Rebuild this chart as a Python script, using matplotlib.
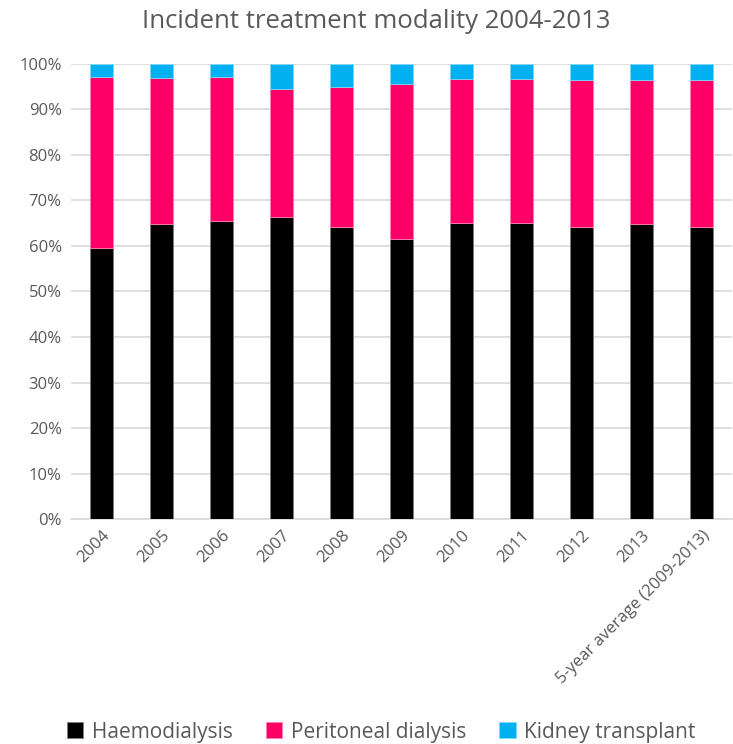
import numpy as np
from matplotlib import pyplot as plt
from matplotlib.ticker import PercentFormatter

# data (percent of incident patients)
categories = ["2004", "2005", "2006", "2007", "2008", "2009", "2010",
              "2011", "2012", "2013", "5-year average (2009-2013)"]
haemo = [59.6, 64.9, 65.5, 66.4, 64.2, 61.6, 65.1, 65.1, 64.1, 64.8, 64.1]
pd_top = [97.2, 97.0, 97.2, 94.4, 94.9, 95.7, 96.8, 96.8, 96.4, 96.4, 96.4]
peritoneal = [t - h for t, h in zip(pd_top, haemo)]
transplant = [100 - t for t in pd_top]

plt.rcParams['font.family'] = ['Open Sans', 'DejaVu Sans']
grey = "#595959"

fig = plt.figure(figsize=(7.33, 7.44), dpi=100)
ax = fig.add_axes([0.0975, 0.3024, 0.9005, 0.6116])

x = np.arange(len(categories))
w = 0.38
ax.bar(x, haemo, w, color="#000000", edgecolor="#7f7f7f", linewidth=0.6,
       label="Haemodialysis", zorder=3)
ax.bar(x, peritoneal, w, bottom=haemo, color="#FF0066", edgecolor="#ff7fb2",
       linewidth=0.6, label="Peritoneal dialysis", zorder=3)
ax.bar(x, transplant, w, bottom=pd_top, color="#00B0F0", edgecolor="#7fd7f7",
       linewidth=0.6, label="Kidney transplant", zorder=3)

ax.set_xlim(-0.5, len(categories) - 0.5)
ax.set_ylim(0, 100)
ax.set_yticks(np.arange(0, 101, 10))
ax.yaxis.set_major_formatter(PercentFormatter(decimals=0))
ax.grid(axis="y", color="#d9d9d9", linewidth=1.2, zorder=0)
for s in ["top", "right", "left"]:
    ax.spines[s].set_visible(False)
ax.spines["bottom"].set_color("#d9d9d9")
ax.spines["bottom"].set_linewidth(1.2)
ax.tick_params(axis="both", length=0, colors=grey, labelsize=12)
ax.tick_params(axis="y", pad=7)
ax.tick_params(axis="x", pad=6)
ax.set_xticks(x)
ax.set_xticklabels(categories, rotation=45, ha="right", rotation_mode="anchor")

fig.suptitle("Incident treatment modality 2004-2013", x=0.513, y=0.988,
             fontsize=18.5, color=grey)

handles, labels = ax.get_legend_handles_labels()
fig.legend(handles, labels, loc="center", bbox_to_anchor=(0.52, 0.016), ncol=3,
           frameon=False, fontsize=15, labelcolor=grey, handlelength=0.8,
           handleheight=0.8, handletextpad=0.4, columnspacing=1.6)

fig.savefig("out.png", dpi=100)
